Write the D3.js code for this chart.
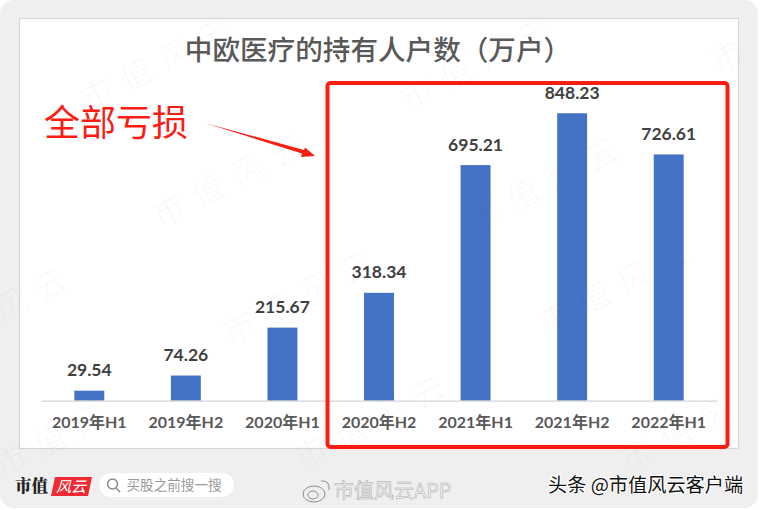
<!DOCTYPE html>
<html>
<head>
<meta charset="utf-8">
<script src="https://cdn.jsdelivr.net/npm/d3@7"></script>
<style>
  html, body { margin: 0; padding: 0; background: #fff; }
  svg { display: block; }
  text { font-family: "Noto Sans CJK SC", sans-serif; }
</style>
</head>
<body>
<script>
// chart values
var categories = ["2019年H1", "2019年H2", "2020年H1", "2020年H2", "2021年H1", "2021年H2", "2022年H1"];
var holders = [29.54, 74.26, 215.67, 318.34, 695.21, 848.23, 726.61];
var titleText = "中欧医疗的持有人户数（万户）";
var noteText = "全部亏损";

var cjk = '"Noto Sans CJK SC", sans-serif';

var svg = d3.select("body").append("svg")
  .attr("width", 760)
  .attr("height", 510);

// grey outer panel and white chart card
svg.append("rect").attr("x", 0).attr("y", 0).attr("width", 758).attr("height", 508)
  .attr("rx", 14).attr("fill", "#efefef");
svg.append("rect").attr("x", 19.5).attr("y", 18.5).attr("width", 719).attr("height", 430)
  .attr("fill", "#fff").attr("stroke", "#d6d6d6").attr("stroke-width", 1.2);

// scales
var x = d3.scaleBand().domain(categories).range([41, 717]).paddingInner(0.69).paddingOuter(0.345);
var y = d3.scaleLinear().domain([0, 900]).range([400.7, 95.7]);

// bars
svg.append("g").selectAll("rect")
  .data(holders)
  .enter()
  .append("rect")
  .attr("x", (d, i) => x(categories[i]))
  .attr("y", d => y(d))
  .attr("width", x.bandwidth())
  .attr("height", d => y(0) - y(d))
  .attr("fill", "#4472c4");

// faint watermark over everything
var marks = [
  [88, 112, "市值风云"], [160, 228, "市值风云"], [230, 345, "市值风云"], [302, 470, "市值风云"],
  [408, 112, "市值风云"], [475, 232, "市值风云"], [546, 335, "市值风云"], [628, 472, "市值风"],
  [2, 322, "风云"], [2, 478, "市值风"], [718, 74, "市"]
];
svg.append("g").selectAll("text")
  .data(marks)
  .enter()
  .append("text")
  .attr("transform", d => "translate(" + d[0] + "," + d[1] + ") rotate(-27)")
  .attr("font-size", 32)
  .attr("font-weight", 300)
  .attr("letter-spacing", 12)
  .attr("fill", "#000")
  .attr("fill-opacity", 0.035)
  .text(d => d[2]);

svg.append("text")
  .attr("x", 378).attr("y", 60)
  .attr("text-anchor", "middle")
  .attr("font-size", 27.6)
  .attr("font-weight", 500)
  .attr("fill", "#595959")
  .text(titleText);

// axis
var axis = svg.append("g")
  .attr("transform", "translate(0,400.7)")
  .call(d3.axisBottom(x).tickSize(0).tickPadding(16));
axis.select(".domain").attr("stroke", "#d5d5d5").attr("stroke-width", 1.2);
axis.selectAll("text")
  .style("font-family", 'Lato, ' + cjk)
  .attr("font-size", 16)
  .attr("font-weight", 700)
  .attr("fill", "#595959");

// value labels
svg.append("g").selectAll("text")
  .data(holders)
  .enter()
  .append("text")
  .attr("x", (d, i) => x(categories[i]) + x.bandwidth() / 2)
  .attr("y", d => y(d) - 14.5)
  .attr("text-anchor", "middle")
  .style("font-family", 'Lato, ' + cjk)
  .attr("font-size", 17.5)
  .attr("font-weight", 700)
  .attr("fill", "#404040")
  .text(d => d.toFixed(2));

// red box and note
svg.append("rect").attr("x", 327.5).attr("y", 83).attr("width", 400).attr("height", 364)
  .attr("rx", 3).attr("fill", "none").attr("stroke", "#fb1c12").attr("stroke-width", 4);
svg.append("text")
  .attr("x", 44).attr("y", 136)
  .attr("font-size", 36)
  .attr("font-weight", 400)
  .attr("fill", "#fb1c12")
  .text(noteText);
svg.append("path")
  .attr("d", "M205,123 L304,150 L305,147.5 L315,156 L301,157 L302,153.5 Z")
  .attr("fill", "#fb1c12");

// footer: logo, search pill, weibo tag, toutiao tag
svg.append("text").attr("x", 15).attr("y", 492)
  .style("font-family", '"Noto Serif CJK SC", "Noto Sans CJK SC", serif')
  .attr("font-size", 16.5).attr("font-weight", 900).attr("fill", "#222").text("市值");
svg.append("path").attr("d", "M55,477 H92 L88,496 H51 Z").attr("fill", "#ee2a33");
svg.append("text").attr("x", 56).attr("y", 492).attr("font-size", 15).attr("font-style", "italic")
  .attr("fill", "#fff").text("风云");

svg.append("rect").attr("x", 99).attr("y", 473).attr("width", 135).attr("height", 24)
  .attr("rx", 12).attr("fill", "#fff");
svg.append("circle").attr("cx", 112.5).attr("cy", 484).attr("r", 5)
  .attr("fill", "none").attr("stroke", "#8a8a8a").attr("stroke-width", 1.5);
svg.append("line").attr("x1", 116).attr("y1", 488).attr("x2", 120).attr("y2", 492)
  .attr("stroke", "#8a8a8a").attr("stroke-width", 1.6);
svg.append("text").attr("x", 126.5).attr("y", 490).attr("font-size", 13.6).attr("fill", "#9a9a9a").text("买股之前搜一搜");

var weibo = svg.append("g").attr("fill", "none").attr("stroke", "#8c8c8c").attr("stroke-width", 1);
weibo.append("ellipse").attr("cx", 314).attr("cy", 494).attr("rx", 11).attr("ry", 8);
weibo.append("ellipse").attr("cx", 313).attr("cy", 495).attr("rx", 5).attr("ry", 4);
weibo.append("path").attr("d", "M321,481 Q330,480 329,490");
svg.append("text").attr("x", 334).attr("y", 498).attr("font-size", 20)
  .attr("fill", "#f4f4f4").attr("stroke", "#a8a8a8").attr("stroke-width", 0.5).text("市值风云APP");

svg.append("text").attr("x", 548).attr("y", 492).attr("font-size", 19.2)
  .attr("fill", "#111").attr("stroke", "#fff").attr("stroke-width", 2).attr("paint-order", "stroke")
  .text("头条 @市值风云客户端");
</script>
</body>
</html>
